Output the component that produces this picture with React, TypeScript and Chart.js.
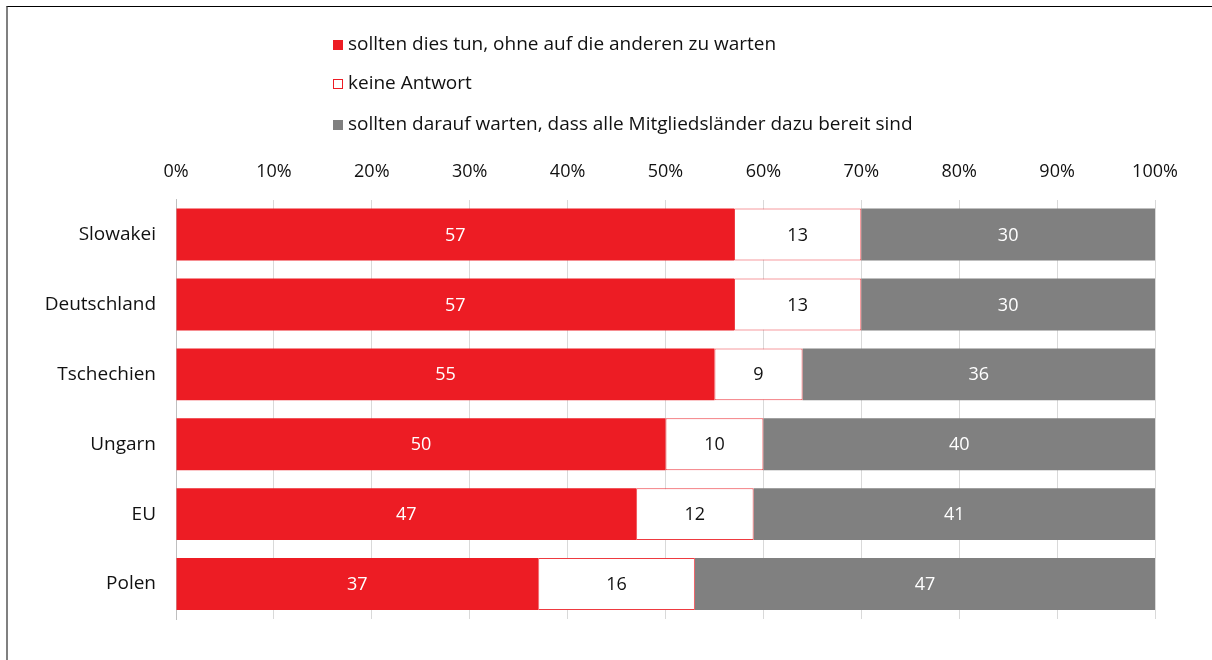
import React, { useEffect, useRef } from "react";
import { Chart, registerables } from "chart.js";

Chart.register(...registerables);

const categories = ["Slowakei", "Deutschland", "Tschechien", "Ungarn", "EU", "Polen"];
const seriesLabels = [
  "sollten dies tun, ohne auf die anderen zu warten",
  "keine Antwort",
  "sollten darauf warten, dass alle Mitgliedsländer dazu bereit sind",
];
const actNow = [57, 57, 55, 50, 47, 37];
const noAnswer = [13, 13, 9, 10, 12, 16];
const wait = [30, 30, 36, 40, 41, 47];
const tickValues = [0, 10, 20, 30, 40, 50, 60, 70, 80, 90, 100];

const RED = "#ED1C24";
const GRAY = "#808080";
const FONT = "'Open Sans', 'Noto Sans', sans-serif";
const TEXT = "#111111";

const valueLabelPlugin = {
  id: "valueLabels",
  afterDatasetsDraw(chart: any) {
    const ctx = chart.ctx;
    ctx.save();
    ctx.font = `18px ${FONT}`;
    ctx.textAlign = "center";
    ctx.textBaseline = "middle";
    chart.data.datasets.forEach((ds: any, di: number) => {
      const meta = chart.getDatasetMeta(di);
      meta.data.forEach((el: any, i: number) => {
        const v = ds.data[i];
        const cx = (el.x + el.base) / 2;
        ctx.fillStyle = ds.labelColor;
        ctx.fillText(String(v), cx, el.y + 1);
      });
    });
    ctx.restore();
  },
};

const legendPlugin = {
  id: "customLegend",
  afterDraw(chart: any) {
    const ctx = chart.ctx;
    ctx.save();
    ctx.font = `19px ${FONT}`;
    ctx.textBaseline = "middle";
    ctx.textAlign = "left";
    const x0 = 333;
    const ys = [45, 84, 125];
    chart.data.datasets.forEach((ds: any, i: number) => {
      const y = ys[i];
      if (ds.legendHollow) {
        ctx.fillStyle = RED;
        ctx.fillRect(x0, y - 5, 10, 10);
        ctx.fillStyle = "#ffffff";
        ctx.fillRect(x0 + 1, y - 4, 8, 8);
      } else {
        ctx.fillStyle = ds.backgroundColor;
        ctx.fillRect(x0, y - 5, 10, 10);
      }
      ctx.fillStyle = TEXT;
      ctx.fillText(ds.label, x0 + 15, y);
    });
    ctx.restore();
  },
};

export default function App() {
  const ref = useRef<HTMLCanvasElement | null>(null);

  useEffect(() => {
    if (!ref.current) return;
    const chart = new Chart(ref.current, {
      type: "bar",
      data: {
        labels: categories,
        datasets: [
          {
            label: seriesLabels[0],
            data: actNow,
            backgroundColor: RED,
            borderWidth: 0,
            labelColor: "#ffffff",
          } as any,
          {
            label: seriesLabels[1],
            data: noAnswer,
            backgroundColor: "#ffffff",
            borderColor: "#EE3A40",
            borderWidth: 1,
            borderSkipped: false,
            labelColor: TEXT,
            legendHollow: true,
          } as any,
          {
            label: seriesLabels[2],
            data: wait,
            backgroundColor: GRAY,
            borderWidth: 0,
            labelColor: "#ffffff",
          } as any,
        ],
      },
      options: {
        indexAxis: "y",
        responsive: false,
        animation: false,
        events: [],
        layout: { padding: { left: 10, right: 57, top: 144, bottom: 41 } },
        datasets: {
          bar: { categoryPercentage: 1, barPercentage: 0.743 },
        },
        plugins: {
          legend: { display: false },
          tooltip: { enabled: false },
        },
        scales: {
          x: {
            position: "top",
            stacked: true,
            min: 0,
            max: 100,
            afterBuildTicks: (scale: any) => {
              scale.ticks = tickValues.map((v) => ({ value: v }));
            },
            ticks: {
              callback: (v: any) => `${v}%`,
              font: { family: FONT, size: 18 },
              color: TEXT,
              padding: 17,
            },
            grid: { color: "#d9d9d9", drawTicks: false, lineWidth: 1 },
            border: { display: false },
          },
          y: {
            stacked: true,
            afterFit: (scale: any) => {
              scale.width = 166;
            },
            ticks: {
              font: { family: FONT, size: 19 },
              color: TEXT,
              padding: 20,
            },
            grid: { display: false, drawTicks: false },
            border: { display: true, color: "#bfbfbf", width: 1 },
          },
        },
      },
      plugins: [valueLabelPlugin, legendPlugin],
    });
    return () => chart.destroy();
  }, []);

  return (
    <div style={{ position: "fixed", left: 0, top: 0, width: 1212, height: 660, background: "#fff" }}>
      <canvas ref={ref} width={1212} height={660} style={{ position: "absolute", left: 0, top: 0, display: "block" }} />
      <div
        style={{
          position: "absolute",
          left: 6,
          top: 6,
          right: 0,
          bottom: 0,
          borderTop: "1px solid #000",
          borderLeft: "2px solid #808080",
          pointerEvents: "none",
        }}
      />
    </div>
  );
}
